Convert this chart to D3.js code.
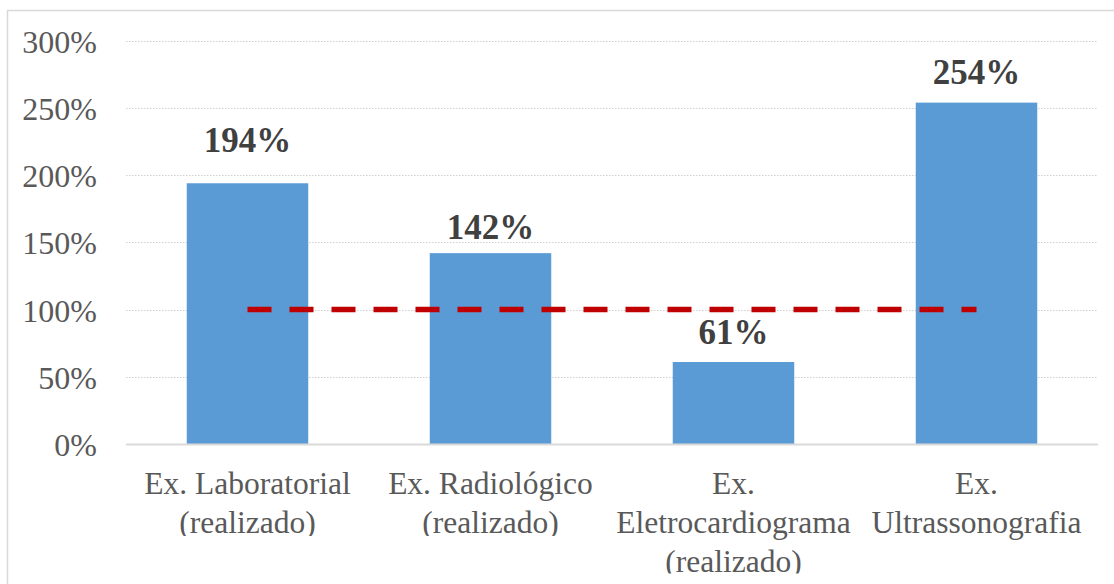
<!DOCTYPE html>
<html>
<head>
<meta charset="utf-8">
<script src="https://cdn.jsdelivr.net/npm/d3@7"></script>
<style>
  html, body { margin: 0; padding: 0; background: #fff; }
  svg { display: block; }
  text { font-family: "Liberation Serif", "Times New Roman", serif; }
</style>
</head>
<body>
<svg id="chart" width="1114" height="584"></svg>
<script>
// ---- data ----
const categories = [
  "Ex. Laboratorial (realizado)",
  "Ex. Radiológico (realizado)",
  "Ex. Eletrocardiograma (realizado)",
  "Ex. Ultrassonografia"
];
const values = [194, 142, 61, 254];           // percent
const targetValue = 100;                       // reference line (percent)
const yTicks = [0, 50, 100, 150, 200, 250, 300];

// ---- layout ----
const W = 1114, H = 584;
const plot = { left: 126, right: 1098, top: 40.8, bottom: 444 };
const labelGap = [31, 14, 18, 19];
const clipExtra = [3, 3, 1.5, 10];

const svg = d3.select("#chart");

// outer chart frame (extends past right/bottom edge as in reference)
svg.append("rect")
  .attr("x", 7.5).attr("y", 10.5)
  .attr("width", W + 20).attr("height", H + 20)
  .attr("fill", "none").attr("stroke", "#d9d9d9").attr("stroke-width", 1.5);

const x = d3.scaleBand().domain(categories).range([plot.left, plot.right]).paddingInner(0.5).paddingOuter(0.25);
const y = d3.scaleLinear().domain([0, 300]).range([plot.bottom, plot.top]);

// gridlines
svg.append("g").selectAll("line")
  .data(yTicks.filter(t => t > 0))
  .join("line")
  .attr("x1", plot.left).attr("x2", plot.right)
  .attr("y1", d => Math.round(y(d)) + 0.5).attr("y2", d => Math.round(y(d)) + 0.5)
  .attr("stroke", "#d0d0d0").attr("stroke-width", 1.2)
  .attr("stroke-dasharray", "1.5,1.5");

// y axis via d3.axisLeft (labels only)
const yAxis = svg.append("g")
  .attr("transform", `translate(${plot.left - 29},0)`)
  .call(d3.axisLeft(y).tickValues(yTicks).tickFormat(d => d + "%").tickSize(0).tickPadding(0));
yAxis.select(".domain").remove();
yAxis.selectAll("text")
  .attr("font-family", "Liberation Serif, Times New Roman, serif")
  .attr("font-size", 32)
  .attr("fill", "#595959")
  .attr("dy", "0.36em");

// bars
svg.append("g").selectAll("rect")
  .data(values)
  .join("rect")
  .attr("x", (d, i) => x(categories[i]))
  .attr("width", x.bandwidth())
  .attr("y", d => y(d))
  .attr("height", d => y(0) - y(d))
  .attr("fill", "#5B9BD5");

// baseline axis
svg.append("line")
  .attr("x1", plot.left).attr("x2", plot.right)
  .attr("y1", plot.bottom + 0.5).attr("y2", plot.bottom + 0.5)
  .attr("stroke", "#d9d9d9").attr("stroke-width", 2);

// target dashed line (from first category center to last)
const centers = categories.map(c => x(c) + x.bandwidth() / 2);
svg.append("path")
  .attr("d", d3.line()(categories.map((c, i) => [centers[i], y(targetValue)])))
  .attr("stroke", "#C00000").attr("stroke-width", 5.5)
  .attr("stroke-dasharray", "24,18")
  .attr("fill", "none");

// data labels
svg.append("g").selectAll("text")
  .data(values)
  .join("text")
  .attr("x", (d, i) => centers[i])
  .attr("y", (d, i) => y(d) - labelGap[i])
  .attr("text-anchor", "middle")
  .attr("font-size", 35)
  .attr("font-weight", "bold")
  .attr("fill", "#404040")
  .text(d => d + "%");

// x axis labels with wrapping and clipping
const lineH = 39;
const firstBaseline = 494;
const maxW = x.step();
const defs = svg.append("defs");
const xg = svg.append("g");
categories.forEach((cat, i) => {
  const words = cat.split(" ");
  const t = xg.append("text")
    .attr("font-size", 31.5)
    .attr("fill", "#595959")
    .attr("text-anchor", "middle");
  const lines = [];
  let cur = [];
  const probe = t.append("tspan");
  words.forEach(w => {
    const test = cur.concat([w]).join(" ");
    probe.text(test);
    if (probe.node().getComputedTextLength() > maxW - 4 && cur.length) {
      lines.push(cur.join(" "));
      cur = [w];
    } else {
      cur.push(w);
    }
  });
  if (cur.length) lines.push(cur.join(" "));
  probe.remove();
  lines.forEach((ln, k) => {
    t.append("tspan")
      .attr("x", centers[i])
      .attr("y", firstBaseline + k * lineH)
      .text(ln);
  });
  const clipBottom = firstBaseline + (lines.length - 1) * lineH + clipExtra[i];
  const id = "clip" + i;
  defs.append("clipPath").attr("id", id)
    .append("rect")
    .attr("x", x(cat) - x.step()).attr("y", 0)
    .attr("width", x.step() * 3).attr("height", clipBottom);
  t.attr("clip-path", `url(#${id})`);
});
</script>
</body>
</html>
